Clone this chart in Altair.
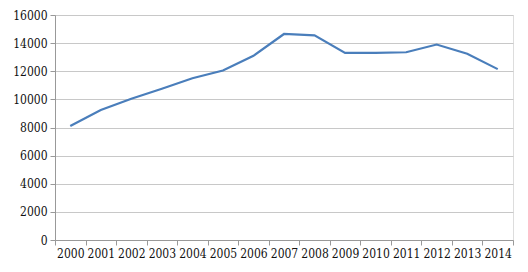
import altair as alt
import pandas as pd

years = [str(y) for y in range(2000, 2015)]
values = [8100, 9250, 10050, 10750, 11500, 12050, 13100, 14650, 14550,
          13300, 13300, 13350, 13900, 13250, 12150]

df = pd.DataFrame({"year": years, "value": values})

font = "DejaVu Serif Condensed"

chart = alt.Chart(df).mark_line(color="#4a7ebb", strokeWidth=2.2).encode(
    x=alt.X("year:N", sort=years, title=None,
            scale=alt.Scale(paddingInner=0, paddingOuter=0),
            axis=alt.Axis(labelAngle=0, tickBand="extent", tickSize=5,
                          tickColor="#999999", domainColor="#999999",
                          labelFont=font, labelFontSize=12, labelColor="#111111",
                          labelPadding=3, grid=False)),
    y=alt.Y("value:Q", title=None,
            scale=alt.Scale(domain=[0, 16000], nice=False),
            axis=alt.Axis(values=list(range(0, 16001, 2000)), format="d",
                          tickSize=5,
                          tickColor="#999999", domainColor="#999999",
                          gridColor="#c8c8c8", gridWidth=1,
                          labelFont=font, labelFontSize=12, labelColor="#111111",
                          labelPadding=3)),
).properties(
    width=458, height=225,
    background="#ffffff",
    autosize=alt.AutoSizeParams(type="none"),
    padding={"left": 55, "top": 15, "right": 15, "bottom": 32},
).configure_view(stroke=None).configure(font=font)

chart.save("out.html", embed_options={"renderer": "svg", "actions": False})
